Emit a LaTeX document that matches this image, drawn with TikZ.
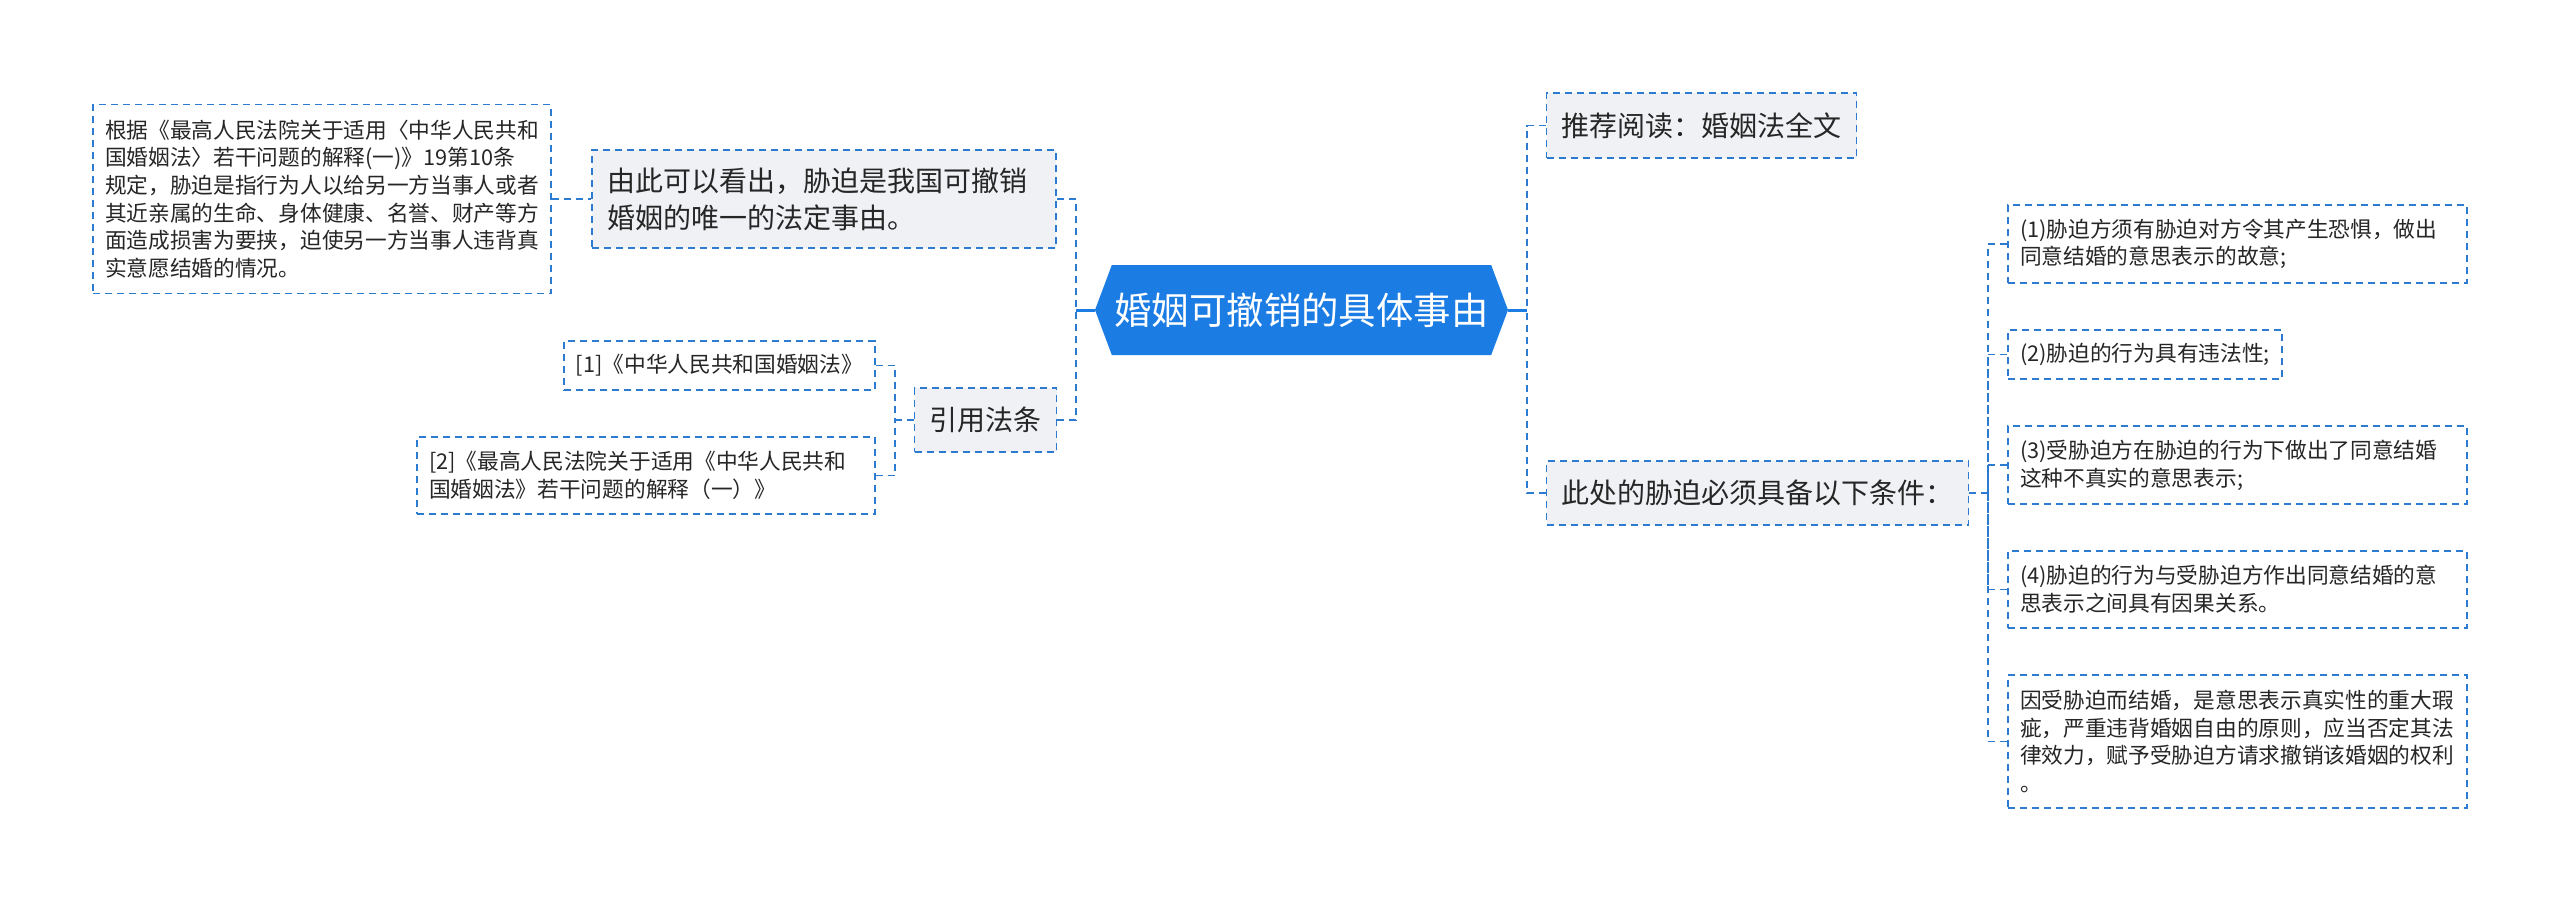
\documentclass[tikz,border=0pt]{standalone}
\usepackage{fontspec}
\setmainfont{Noto Sans CJK SC}
\usetikzlibrary{shapes.symbols}

\definecolor{mapblue}{HTML}{1B7CE4}
\definecolor{dashblue}{HTML}{2D7BD1}
\definecolor{topicgray}{HTML}{EFF1F4}
\definecolor{inkgray}{HTML}{262626}

\tikzset{
  root/.style={shape=signal, signal to=west and east, signal pointer angle=139,
    fill=mapblue, text=white, font=\fontsize{37.4}{40}\selectfont,
    minimum width=413pt, minimum height=90pt, inner sep=0pt},
  topic/.style={draw=dashblue, fill=topicgray, dash pattern=on 7pt off 5pt,
    line width=1.8pt, text=inkgray, font=\fontsize{28}{37}\selectfont,
    align=left, inner xsep=15pt, inner ysep=0pt},
  leaf/.style={topic, fill=white, inner xsep=12pt, font=\fontsize{21.7}{27.7}\selectfont},
  link/.style={draw=dashblue, dash pattern=on 7pt off 5pt, line width=1.8pt},
  trunk/.style={draw=mapblue, line width=3pt},
}

\begin{document}
\begin{tikzpicture}[x=1pt, y=-1pt]
        \useasboundingbox (0,0) rectangle (2560,903);
        % centre
        \node[root] (marry) at (1301.5,310) {婚姻可撤销的具体事由};
        % left branch
        \node[topic, text width=434pt, minimum height=98pt] (hence) at (824,199) {由此可以看出，胁迫是我国可撤销\\婚姻的唯一的法定事由。};
        \node[leaf, text width=434pt, minimum height=189pt] (law) at (322,199) {根据《最高人民法院关于适用〈中华人民共和\\国婚姻法〉若干问题的解释(一)》19第10条\\规定，胁迫是指行为人以给另一方当事人或者\\其近亲属的生命、身体健康、名誉、财产等方\\面造成损害为要挟，迫使另一方当事人违背真\\实意愿结婚的情况。};
        \node[topic, minimum width=141pt, minimum height=64pt] (cite) at (985.5,420) {引用法条};
        \node[leaf, minimum width=311pt, minimum height=49pt] (ref1) at (719.5,365.5) {[1]《中华人民共和国婚姻法》};
        \node[leaf, text width=434pt, minimum height=77pt] (ref2) at (646,475.5) {[2]《最高人民法院关于适用《中华人民共和\\国婚姻法》若干问题的解释（一）》};
        % right branch
        \node[topic, minimum width=309pt, minimum height=65pt] (read) at (1701.5,125.5) {推荐阅读：婚姻法全文};
        \node[topic, minimum width=421pt, minimum height=64pt] (cond) at (1757.5,493) {此处的胁迫必须具备以下条件：};
        \node[leaf, text width=435pt, minimum height=78pt] (c1) at (2237.5,244) {(1)胁迫方须有胁迫对方令其产生恐惧，做出\\同意结婚的意思表示的故意;};
        \node[leaf, minimum width=274pt, minimum height=49pt] (c2) at (2145,354.5) {(2)胁迫的行为具有违法性;};
        \node[leaf, text width=435pt, minimum height=78pt] (c3) at (2237.5,465) {(3)受胁迫方在胁迫的行为下做出了同意结婚\\这种不真实的意思表示;};
        \node[leaf, text width=435pt, minimum height=77pt] (c4) at (2237.5,589.5) {(4)胁迫的行为与受胁迫方作出同意结婚的意\\思表示之间具有因果关系。};
        \node[leaf, text width=435pt, minimum height=133pt] (c5) at (2237.5,741.5) {因受胁迫而结婚，是意思表示真实性的重大瑕\\疵，严重违背婚姻自由的原则，应当否定其法\\律效力，赋予受胁迫方请求撤销该婚姻的权利\\。};
        % joints
        \coordinate (jl) at (1076,310);
        \coordinate (jc) at (895,420);
        \coordinate (jr) at (1527,310);
        \coordinate (jq) at (1988,493);
        % connectors
        \draw[trunk] (marry.west) -- (jl);
        \draw[trunk] (marry.east) -- (jr);
        \draw[link] (hence.east) -| (jl);
        \draw[link] (cite.east) -| (jl);
        \draw[link] (law.east) -- (hence.west);
        \draw[link] (cite.west) -- (jc);
        \draw[link] (ref1.east) -| (jc);
        \draw[link] (ref2.east) -| (jc);
        \draw[link] (read.west) -| (jr);
        \draw[link] (cond.west) -| (jr);
        \draw[link] (cond.east) -- (jq);
        \draw[link] (c1.west) -| (jq);
        \draw[link] (c2.west) -| (jq);
        \draw[link] (c3.west) -| (jq);
        \draw[link] (c4.west) -| (jq);
        \draw[link] (c5.west) -| (jq);
\end{tikzpicture}
\end{document}
